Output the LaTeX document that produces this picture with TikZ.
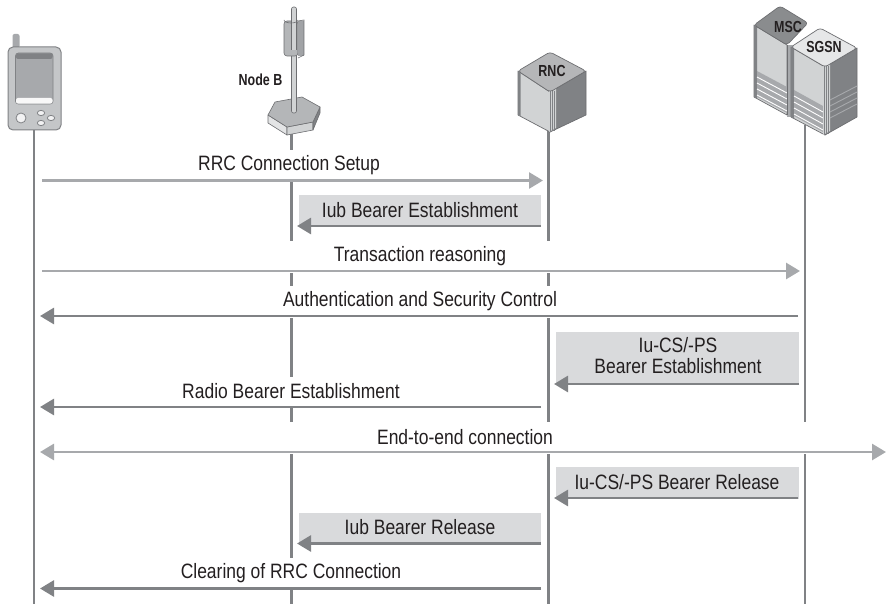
\documentclass[tikz,border=0pt]{standalone}
\usepackage{fontspec}
\setmainfont[FakeStretch=0.84]{Liberation Sans}
\newfontfamily\iconfont[FakeStretch=0.78]{Liberation Sans Bold}
\usetikzlibrary{arrows.meta}
\definecolor{ltg}{HTML}{A7A9AC}
\definecolor{dkg}{HTML}{808285}
\definecolor{boxg}{HTML}{D9DADC}
\definecolor{txt}{HTML}{231F20}
\definecolor{facel}{HTML}{D1D3D4}
\definecolor{topm}{HTML}{B5B6B8}
\definecolor{topl}{HTML}{E6E7E8}
\definecolor{topd}{HTML}{8A8C8E}
\definecolor{edge}{HTML}{6D6E71}
\tikzset{
 life/.style={draw=dkg,line width=2.4pt},
 msgl/.style={draw=ltg,line width=2.8pt,-{Triangle[length=14pt,width=16pt]}},
 msgd/.style={draw=dkg,line width=2.8pt,-{Triangle[length=14pt,width=16pt]}},
 msgb/.style={draw=ltg,line width=2.8pt,{Triangle[length=14pt,width=16pt]}-{Triangle[length=14pt,width=16pt]}},
 lbl/.style={font=\fontsize{20.8}{21}\selectfont,text=txt,inner sep=0pt,align=center},
 iconlbl/.style={font=\iconfont\fontsize{16}{16}\selectfont,text=txt,inner sep=0pt},
 shade/.style={fill=boxg,draw=none},
 strip/.style={line width=0.9pt,draw=white},
 outl/.style={draw=edge,line width=0.7pt,line join=round},
}
\begin{document}
\begin{tikzpicture}[x=1pt,y=-1pt]
\useasboundingbox (0,0) rectangle (886,604);
\fill[white] (0,0) rectangle (886,604);
% shaded boxes
\fill[shade] (299,195) rectangle (541,227);
\fill[shade] (556,332) rectangle (799,385);
\fill[shade] (556,467) rectangle (799,499);
\fill[shade] (299,513) rectangle (541,545);
% lifelines
\coordinate (a0) at (34,128); \coordinate (a1) at (34,604);
\draw[life] (a0) -- (a1);
\foreach \p/\q in {134/150,182/241,273/286,318/377,408/422,454/558,590/604}{
  \coordinate (s) at (291.5,\p); \coordinate (e) at (291.5,\q);
  \draw[life] (s) -- (e);}
\foreach \p/\q in {130/241,273/286,318/422,454/604}{
  \coordinate (s) at (548.5,\p); \coordinate (e) at (548.5,\q);
  \draw[life] (s) -- (e);}
\foreach \p/\q in {125/422,454/604}{
  \coordinate (s) at (805,\p); \coordinate (e) at (805,\q);
  \draw[life] (s) -- (e);}
% messages
\coordinate (m1a) at (42,180.5); \coordinate (m1b) at (543,180.5);
\draw[msgl] (m1a) -- (m1b);
\coordinate (m2a) at (541,226); \coordinate (m2b) at (297,226);
\draw[msgd] (m2a) -- (m2b);
\coordinate (m3a) at (42,271); \coordinate (m3b) at (800,271);
\draw[msgl] (m3a) -- (m3b);
\coordinate (m4a) at (798,316); \coordinate (m4b) at (40,316);
\draw[msgd] (m4a) -- (m4b);
\coordinate (m5a) at (799,384); \coordinate (m5b) at (554,384);
\draw[msgd] (m5a) -- (m5b);
\coordinate (m6a) at (541,407); \coordinate (m6b) at (40,407);
\draw[msgd] (m6a) -- (m6b);
\coordinate (m7a) at (40,452); \coordinate (m7b) at (886,452);
\draw[msgb] (m7a) -- (m7b);
\coordinate (m8a) at (798,498); \coordinate (m8b) at (554,498);
\draw[msgd] (m8a) -- (m8b);
\coordinate (m9a) at (541,543.5); \coordinate (m9b) at (297,543.5);
\draw[msgd] (m9a) -- (m9b);
\coordinate (m10a) at (541,588.5); \coordinate (m10b) at (40,588.5);
\draw[msgd] (m10a) -- (m10b);
% labels
\node[lbl] (t1) at (289,165.5) {RRC Connection Setup};
\node[lbl] (t2) at (420,210.5) {Iub Bearer Establishment};
\node[lbl] (t3) at (420,256) {Transaction reasoning};
\node[lbl] (t4) at (420,301.5) {Authentication and Security Control};
\node[lbl] (t5) at (678,356) {Iu-CS/-PS\\Bearer Establishment};
\node[lbl] (t6) at (291,391.5) {Radio Bearer Establishment};
\node[lbl] (t7) at (465,437.5) {End-to-end connection};
\node[lbl] (t8) at (677,482.5) {Iu-CS/-PS Bearer Release};
\node[lbl] (t9) at (420,527.5) {Iub Bearer Release};
\node[lbl] (t10) at (291,573.5) {Clearing of RRC Connection};
% phone
\fill[ltg,rounded corners=2pt] (12.5,48) rectangle (19.5,34);
\fill[facel!70!ltg,draw=dkg,line width=1pt,rounded corners=5pt] (8,47) rectangle (61,130);
\fill[ltg,draw=dkg,line width=.8pt,rounded corners=3pt] (15.5,53) rectangle (53,104);
\fill[white!92!ltg,rounded corners=2pt] (16,98) rectangle (52.5,103.6);
\fill[dkg,rounded corners=2pt] (16,53.5) rectangle (52.5,59);
\draw[dkg,line width=.8pt,fill=white!85!ltg] (21,118) circle[radius=5];
\foreach \x/\y in {41/113,51/118,41/123}
  \draw[dkg,line width=.8pt,fill=white!85!ltg] (\x,\y) ellipse[x radius=3.7,y radius=2.6];
% Node B
\fill[facel!60!white,draw=edge,line width=.6pt,line join=round] (268,115) -- (287,127) -- (287,135) -- (268,123) -- cycle;
\fill[facel,draw=edge,line width=.6pt,line join=round] (287,127) -- (313,122) -- (313,130) -- (287,135) -- cycle;
\fill[dkg,draw=edge,line width=.6pt,line join=round] (313,122) -- (320,107) -- (320,113) -- (313,130) -- cycle;
\fill[ltg!85!white,draw=edge,line width=.6pt,line join=round] (268,115) -- (275,102) -- (302,97) -- (320,107) -- (313,122) -- (287,127) -- cycle;
\fill[facel,draw=edge,line width=.6pt,rounded corners=2pt] (291.5,7) rectangle (296.5,113);
\fill[ltg!85!white,draw=edge,line width=.6pt,rounded corners=3pt] (284,21) rectangle (298,56);
\fill[ltg!85!dkg] (298,21) rectangle (304,56);
\draw[edge,line width=.6pt] (298,21) -- (304,20) -- (304,55) -- (298,58);
\fill[facel] (291.5,14) rectangle (296.5,50);
\draw[edge,line width=.6pt] (291.5,14) -- (291.5,50) (296.5,14) -- (296.5,50);
\draw[edge,line width=.6pt] (284,20) arc[start angle=180,end angle=360,x radius=7,y radius=-3];
\node[iconlbl] (nb) at (260.5,79.5) {Node B};
% RNC
\fill[facel,outl] (518,71) -- (550,92) -- (550,132) -- (518,115) -- cycle;
\fill[dkg,outl] (586,71) -- (550,92) -- (550,132) -- (586,115) -- cycle;
\fill[dkg] (518,71) -- (520.5,73) -- (520.5,116) -- (518,115) -- cycle;
\fill[facel] (549,91) -- (556,87) -- (556,128) -- (549,132) -- cycle;
\foreach \x in {550,552,554}
  \draw[dkg,line width=.7pt] (\x,91) -- (\x,131);
\fill[topm,outl,rounded corners=3pt] (518,71) -- (550,52) -- (586,71) -- (550,92) -- cycle;
\node[iconlbl] (rnc) at (552,71) {RNC};
% MSC
\fill[facel,outl] (754,25) -- (787,45) -- (787,115) -- (754,97) -- cycle;
\fill[dkg] (754,25) -- (757,27) -- (757,99) -- (754,97) -- cycle;
\fill[ltg] (787,45) rectangle (794,117);
\fill[ltg] (757,71) -- (787,87) -- (787,113) -- (757,97) -- cycle;
\foreach \d in {77,83,89,95}
  \draw[strip] (757,\d) -- (787,\d+16);
\draw[edge,line width=.8pt] (787,45) -- (787,115);
\fill[topd,outl,rounded corners=3pt] (754,25) -- (780,6) -- (808,23) -- (787,45) -- cycle;
\node[iconlbl] (msc) at (788,27) {MSC};
% SGSN
\fill[facel,outl] (791,47) -- (825,67) -- (825,135) -- (791,117) -- cycle;
\fill[dkg,outl] (857,48) -- (825,67) -- (825,135) -- (857,117) -- cycle;
\fill[dkg] (791,47) -- (794,49) -- (794,119) -- (791,117) -- cycle;
\fill[ltg] (794,90) -- (823,106) -- (823,132) -- (794,116) -- cycle;
\foreach \d in {96,102,108,114}
  \draw[strip] (794,\d) -- (823,\d+16);
\fill[facel] (823,66) -- (830,62) -- (830,131) -- (823,135) -- cycle;
\foreach \x in {824,826,828}
  \draw[dkg,line width=.7pt] (\x,66) -- (\x,134);
\foreach \d in {100,106,112,118}
  \draw[ltg,line width=.9pt] (830,\d) -- (857,\d-14);
\fill[topl,outl,rounded corners=3pt] (791,47) -- (820,28) -- (857,48) -- (825,67) -- cycle;
\node[iconlbl] (sgsn) at (824,47) {SGSN};
\end{tikzpicture}
\end{document}
